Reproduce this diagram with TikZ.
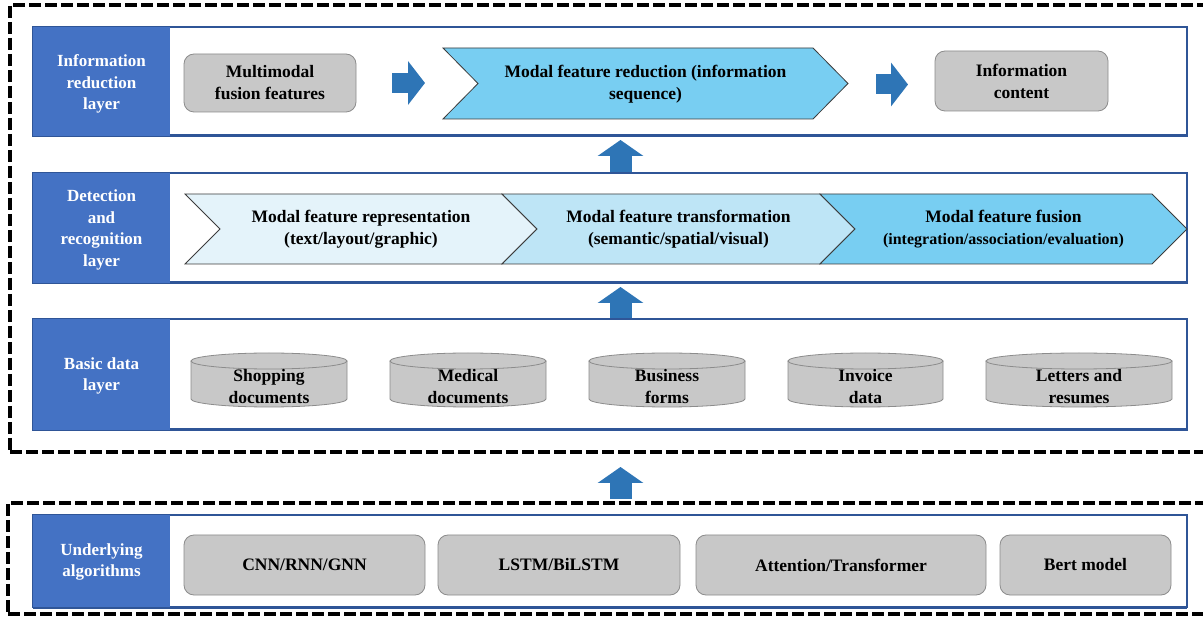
\documentclass[tikz,border=0pt]{standalone}
\usepackage{fontspec}
\setmainfont{Liberation Serif}
\usetikzlibrary{arrows.meta}
\definecolor{labelblue}{RGB}{68,114,196}
\definecolor{rowblue}{RGB}{47,85,151}
\definecolor{arrowblue}{RGB}{46,117,182}
\definecolor{chevdark}{RGB}{120,206,242}
\definecolor{chevmid}{RGB}{190,229,246}
\definecolor{chevlight}{RGB}{228,243,250}
\definecolor{chevedge}{RGB}{60,60,60}
\definecolor{boxgray}{RGB}{200,200,200}
\definecolor{boxedge}{RGB}{140,140,140}
\newcommand\chevshape[5]{%
  \filldraw[fill=#5, draw=chevedge, line width=0.8pt]
    (#1,#2) -- (#3,#2) -- ({#3+35},{(#2+#4)/2}) -- (#3,#4) -- (#1,#4) -- ({#1+35},{(#2+#4)/2}) -- cycle;}
\newcommand\dbcyl[4]{% cx, top, bottom, half width
  \fill[boxgray] ({#1-#4},{#2+8}) -- ({#1-#4},{#3-8})
    arc[start angle=180, end angle=0, x radius=#4, y radius=8] -- ({#1+#4},{#2+8}) -- cycle;
  \draw[boxedge, line width=0.8pt] ({#1-#4},{#2+8}) -- ({#1-#4},{#3-8})
    arc[start angle=180, end angle=0, x radius=#4, y radius=8] -- ({#1+#4},{#2+8});
  \filldraw[fill=boxgray, draw=boxedge, line width=0.8pt] (#1,{#2+8}) ellipse [x radius=#4, y radius=8];}
\begin{document}
\begin{tikzpicture}[x=1pt,y=1pt,yscale=-1,
  every node/.style={inner sep=0pt, outer sep=0pt},
  txt/.style={font=\fontsize{17.5}{22}\selectfont\bfseries, align=center},
  rowbox/.style={draw=rowblue, line width=1.3pt, fill=white, anchor=north west, minimum width=1154pt, minimum height=#1},
  labelbox/.style={fill=labelblue, anchor=north west, minimum width=137pt, minimum height=#1, text=white, font=\fontsize{17}{21.5}\selectfont\bfseries, align=center},
  labeltext/.style={text=white, font=\fontsize{17}{21.5}\selectfont\bfseries, align=center},
  graybox/.style n args={2}{txt, draw=boxedge, fill=boxgray, line width=0.8pt, rounded corners=10pt, minimum width=#1, minimum height=#2},
  dashbox/.style={draw=black, line width=3.4pt, dash pattern=on 12pt off 4pt, anchor=north west},
  thickbottom/.style={draw=rowblue, line width=3pt},
  harrow/.style={color=arrowblue, line width=20pt, -{Triangle[length=17pt,width=43pt]}},
  varrow/.style={color=arrowblue, line width=22pt, -{Triangle[length=16pt,width=45pt]}}
]
\useasboundingbox (0,0) rectangle (1203,617);

% dashed frames
\node[dashbox, minimum width=1200pt, minimum height=447pt] (upper) at (10,5) {};
\node[dashbox, minimum width=1200pt, minimum height=111pt] (lower) at (8,503) {};

% rows
\node[rowbox=109pt] (r1) at (33,27) {};
\node[rowbox=110pt] (r2) at (33,173) {};
\node[rowbox=111pt] (r3) at (33,319) {};
\node[rowbox=92pt] (r4) at (33,515) {};
\foreach \r in {r1,r2,r3,r4} \draw[thickbottom] (\r.south west) -- (\r.south east);

\node[labelbox=109pt] (l1) at (33,27) {};
\node[labelbox=110pt] (l2) at (33,173) {};
\node[labelbox=111pt] (l3) at (33,319) {};
\node[labelbox=92pt] (l4) at (33,515) {};
\node[labeltext] (t1) at (101.5,84) {Information\\reduction\\layer};
\node[labeltext] (t2) at (101.5,230) {Detection\\and\\recognition\\layer};
\node[labeltext] (t3) at (101.5,376) {Basic data\\layer};
\node[labeltext] (t4) at (101.5,562) {Underlying\\algorithms};

% row 1
\node[graybox={172pt}{58pt}] (mm) at (270,83) {Multimodal\\fusion features};
\chevshape{443}{48}{813}{119}{chevdark}
\node[txt, minimum width=405pt, minimum height=71pt] (chA) at (645.5,84.5) {Modal feature reduction (information\\sequence)};
\node[graybox={173pt}{60pt}] (ic) at (1021.5,81) {Information\\content};
\draw[harrow, shorten <=36pt, shorten >=18pt] (mm.east) -- (mm.east -| chA.west);
\draw[harrow, shorten <=28pt, shorten >=27pt] (chA.east) -- (chA.east -| ic.west);

% row 2
\chevshape{185}{194}{502}{264}{chevlight}
\chevshape{502}{194}{820}{264}{chevmid}
\chevshape{820}{194}{1152}{264}{chevdark}
\node[txt, minimum width=352pt, minimum height=70pt] (ch1) at (361,229.5) {Modal feature representation\\(text/layout/graphic)};
\node[txt, minimum width=353pt, minimum height=70pt] (ch2) at (678.5,229.5) {Modal feature transformation\\(semantic/spatial/visual)};
\node[txt, minimum width=367pt, minimum height=70pt] (ch3) at (1003.5,229.5) {Modal feature fusion\\{\fontsize{16}{21}\selectfont(integration/association/evaluation)}};

% row 3
\dbcyl{269}{353}{407}{78}
\dbcyl{468}{353}{407}{78}
\dbcyl{667}{353}{407}{78}
\dbcyl{865.5}{353}{407}{77.5}
\dbcyl{1079}{353}{407}{93}
\node[txt] (d1) at (269,387) {Shopping\\documents};
\node[txt] (d2) at (468,387) {Medical\\documents};
\node[txt] (d3) at (667,387) {Business\\forms};
\node[txt] (d4) at (865.5,387) {Invoice\\data};
\node[txt] (d5) at (1079,387) {Letters and\\resumes};

% row 4
\node[graybox={241pt}{60pt}] (a1) at (304.5,565) {CNN/RNN/GNN};
\node[graybox={242pt}{60pt}] (a2) at (559,565) {LSTM/BiLSTM};
\node[graybox={290pt}{60pt}] (a3) at (841,565) {Attention/Transformer};
\node[graybox={171pt}{60pt}] (a4) at (1085.5,565) {Bert model};

% vertical arrows
\coordinate (ax) at (620.5,0);
\draw[varrow, shorten <=1pt, shorten >=4pt] (r2.north -| ax) -- (r1.south -| ax);
\draw[varrow, shorten <=1pt, shorten >=4pt] (r3.north -| ax) -- (r2.south -| ax);
\draw[varrow, shorten <=4pt, shorten >=15pt] (lower.north -| ax) -- (upper.south -| ax);
\end{tikzpicture}
\end{document}
